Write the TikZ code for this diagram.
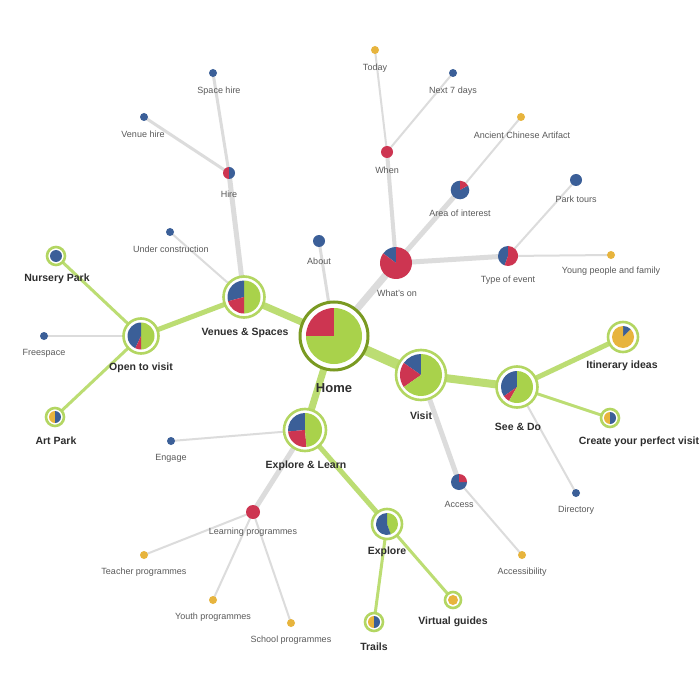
\documentclass[tikz,border=0pt]{standalone}
\usepackage{fontspec}
\setmainfont{Liberation Sans}
\usetikzlibrary{positioning}
\definecolor{piegreen}{HTML}{A9D24B}
\definecolor{edgegreen}{HTML}{BCDD73}
\definecolor{ringgreen}{HTML}{B3D662}
\definecolor{homering}{HTML}{7A9A22}
\definecolor{edgegray}{HTML}{DCDCDC}
\definecolor{pieblue}{HTML}{3B5F98}
\definecolor{piered}{HTML}{CD3551}
\definecolor{pieyellow}{HTML}{E7B43D}
\definecolor{txtgray}{HTML}{5A5A5A}
\definecolor{txtdark}{HTML}{2E2E2E}
% one slice of a pie: centre, radius, start, end, colour
\newcommand\pieslice[5]{\fill[#5] (#1) -- ++(#3:#2pt) arc[start angle=#3,end angle=#4,radius=#2pt] -- cycle;}

\begin{document}
\begin{tikzpicture}[x=1pt,y=-1pt,
  sub/.style={font=\fontsize{9}{10}\selectfont,text=txtgray,inner sep=0pt},
  main/.style={font=\fontsize{10.5}{12}\selectfont\bfseries,text=txtdark,inner sep=0pt},
  ring/.style={draw=ringgreen,fill=white,line width=2.6pt}]
\useasboundingbox (0,0) rectangle (700,700);
\fill[white] (0,0) rectangle (700,700);
% node centres
\foreach \n/\x/\y in {
  home/334/336, whatson/396/263, about/319/241, when/387/152, today/375/50,
  nextdays/453/73, area/460/190, ancient/521/117, eventtype/508/256,
  parktours/576/180, young/611/255, venues/244/297, hire/229/173,
  spacehire/213/73, venuehire/144/117, underconst/170/232, opentovisit/141/336,
  nursery/56/256, freespace/44/336, artpark/55/417, visit/421/375,
  access/459/482, accessibility/522/555, seedo/517/387, itinerary/623/337,
  create/610/418, directory/576/493, explorelearn/305/430, engage/171/441,
  learning/253/512, teacher/144/555, youth/213/600, school/291/623,
  explore/387/524, trails/374/622, virtual/453/600}
  \coordinate (\n) at (\x,\y);
% gray links
\foreach \a/\b/\w in {
  home/about/3, home/whatson/7, whatson/when/4, when/today/2, when/nextdays/2,
  whatson/area/5, area/ancient/2, whatson/eventtype/5, eventtype/parktours/2,
  eventtype/young/2, venues/hire/5, hire/spacehire/3, hire/venuehire/3,
  venues/underconst/2, opentovisit/freespace/2, visit/access/5,
  access/accessibility/2, seedo/directory/2, explorelearn/engage/2,
  explorelearn/learning/5, learning/teacher/2, learning/youth/2, learning/school/2}
  \draw[edgegray,line width=\w pt] (\a) -- (\b);
% green links
\foreach \a/\b/\w in {
  home/venues/7, venues/opentovisit/5, opentovisit/nursery/3, opentovisit/artpark/3,
  home/visit/10, visit/seedo/8, seedo/itinerary/5, seedo/create/3,
  home/explorelearn/7, explorelearn/explore/5, explore/trails/3, explore/virtual/3}
  \draw[edgegreen,line width=\w pt] (\a) -- (\b);
% rings
\draw[draw=homering,fill=white,line width=3pt] (home) circle[radius=34pt];
\foreach \n/\r in {venues/20.5, opentovisit/17.5, visit/25, seedo/20.5,
  itinerary/15, explorelearn/21, explore/15, nursery/9, artpark/9, create/9,
  trails/9, virtual/8}
  \draw[ring] (\n) circle[radius=\r pt];
% single colour dots
\foreach \n/\r/\c in {about/6/pieblue, when/6/piered, today/4/pieyellow,
  nextdays/4/pieblue, ancient/4/pieyellow, parktours/6/pieblue, young/4/pieyellow,
  spacehire/4/pieblue, venuehire/4/pieblue, underconst/4/pieblue,
  nursery/6/pieblue, freespace/4/pieblue, accessibility/4/pieyellow,
  directory/4/pieblue, engage/4/pieblue, learning/7/piered, teacher/4/pieyellow,
  youth/4/pieyellow, school/4/pieyellow, virtual/5/pieyellow}
  \fill[\c] (\n) circle[radius=\r pt];
% pies
\pieslice{home}{28}{90}{180}{piered}
\pieslice{home}{28}{180}{450}{piegreen}
\pieslice{whatson}{16}{90}{143}{pieblue}
\pieslice{whatson}{16}{143}{450}{piered}
\pieslice{area}{9.3}{90}{390}{pieblue}
\pieslice{area}{9.3}{30}{90}{piered}
\pieslice{eventtype}{10}{90}{250}{pieblue}
\pieslice{eventtype}{10}{-110}{90}{piered}
\pieslice{hire}{6}{90}{270}{piered}
\pieslice{hire}{6}{-90}{90}{pieblue}
\pieslice{venues}{16.5}{-90}{90}{piegreen}
\pieslice{venues}{16.5}{90}{195}{pieblue}
\pieslice{venues}{16.5}{195}{270}{piered}
\pieslice{opentovisit}{13.5}{-90}{90}{piegreen}
\pieslice{opentovisit}{13.5}{90}{245}{pieblue}
\pieslice{opentovisit}{13.5}{245}{270}{piered}
\pieslice{artpark}{6}{90}{270}{pieyellow}
\pieslice{artpark}{6}{-90}{90}{pieblue}
\pieslice{visit}{21}{90}{145}{pieblue}
\pieslice{visit}{21}{145}{215}{piered}
\pieslice{visit}{21}{215}{450}{piegreen}
\pieslice{access}{8}{90}{360}{pieblue}
\pieslice{access}{8}{0}{90}{piered}
\pieslice{seedo}{16}{90}{215}{pieblue}
\pieslice{seedo}{16}{215}{240}{piered}
\pieslice{seedo}{16}{240}{450}{piegreen}
\pieslice{itinerary}{11}{45}{90}{pieblue}
\pieslice{itinerary}{11}{90}{405}{pieyellow}
\pieslice{create}{6}{90}{270}{pieyellow}
\pieslice{create}{6}{-90}{90}{pieblue}
\pieslice{explorelearn}{17}{90}{185}{pieblue}
\pieslice{explorelearn}{17}{185}{275}{piered}
\pieslice{explorelearn}{17}{275}{450}{piegreen}
\pieslice{explore}{11}{-70}{90}{piegreen}
\pieslice{explore}{11}{90}{290}{pieblue}
\pieslice{trails}{6}{90}{270}{pieyellow}
\pieslice{trails}{6}{-90}{90}{pieblue}
% labels
\foreach \n/\x/\y/\t in {
  today/375/68/Today, nextdays/453/91/Next 7 days, when/387/170/When,
  ancient/522/135/Ancient Chinese Artifact, area/460/213/Area of interest,
  parktours/576/199/Park tours, young/611/271/Young people and family,
  eventtype/508/280/Type of event, whatson/397/293/What's on, about/319/261/About,
  spacehire/219/91/Space hire, venuehire/143/134/Venue hire, hire/229/194/Hire,
  underconst/171/249/Under construction, freespace/44/353/Freespace,
  directory/576/510/Directory, access/459/504/Access,
  accessibility/522/572/Accessibility, engage/171/458/Engage,
  learning/253/532/Learning programmes, teacher/144/572/Teacher programmes,
  youth/213/617/Youth programmes, school/291/640/School programmes}
  \node[sub] (t-\n) at (\x,\y) {\t};
\foreach \n/\x/\y/\t in {
  venues/245/333/Venues \& Spaces, nursery/57/279/Nursery Park,
  opentovisit/141/368/Open to visit, artpark/56/441/Art Park, visit/421/416/Visit,
  itinerary/622/366/Itinerary ideas, seedo/518/427/See \& Do,
  create/639/442/Create your perfect visit, explorelearn/306/466/Explore \& Learn,
  explore/387/552/Explore, virtual/453/622/Virtual guides, trails/374/647/Trails}
  \node[main] (t-\n) at (\x,\y) {\t};
\node[main,font=\fontsize{13}{15}\selectfont\bfseries] (t-home) at (334,388) {Home};
\end{tikzpicture}
\end{document}
